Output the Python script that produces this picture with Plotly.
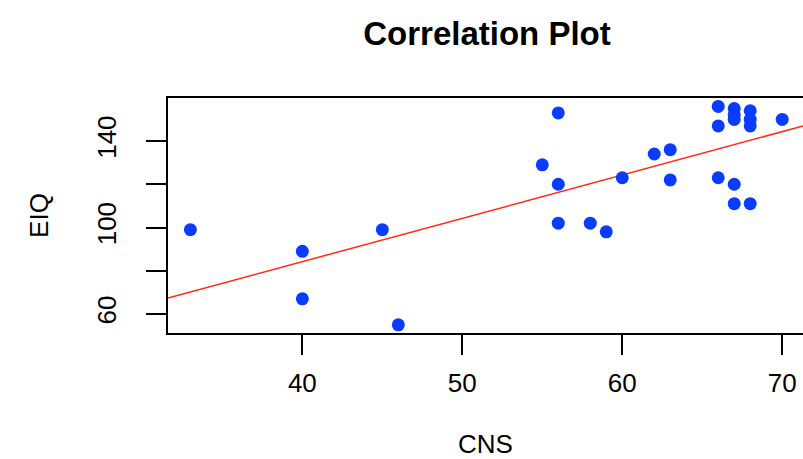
import numpy as np
import plotly.graph_objects as go

cns = [33, 40, 40, 45, 46, 55, 56, 56, 56, 58, 59, 60, 62, 63, 63,
       66, 66, 66, 67, 67, 67, 67, 67, 68, 68, 68, 68, 70]
eiq = [99, 89, 67, 99, 55, 129, 153, 120, 102, 102, 98, 123, 134, 136, 122,
       156, 147, 123, 155, 152, 150, 120, 111, 154, 150, 147, 111, 150]

x_ticks = [40, 50, 60, 70]
x_labels = ["40", "50", "60", "70"]
y_ticks = [60, 80, 100, 120, 140, 160]
y_labels = ["60", "", "100", "", "140", ""]

xr = [31.6, 71.3]
yr = [51.2, 159.9]

slope, intercept = np.polyfit(cns, eiq, 1)
lx = np.array(xr)
ly = intercept + slope * lx

font = "Liberation Sans, Arial, Helvetica, sans-serif"

W, H = 803, 459

fig = go.Figure()
fig.add_trace(go.Scatter(x=lx, y=ly, mode="lines",
                         line=dict(color="#ff2a12", width=1.5),
                         hoverinfo="skip"))
fig.add_trace(go.Scatter(x=cns, y=eiq, mode="markers",
                         marker=dict(color="#0a3cff", size=13, line=dict(width=0)),
                         cliponaxis=False))

fig.update_layout(
    width=W, height=H,
    margin=dict(l=168, r=0, t=98, b=126),
    paper_bgcolor="white", plot_bgcolor="white",
    showlegend=False,
    title=dict(text="<b>Correlation Plot</b>", x=487 / W, xanchor="center",
               y=1 - 33 / H, yanchor="middle",
               font=dict(family=font, size=33, color="black")),
    font=dict(family=font, color="black"),
)
fig.update_xaxes(range=xr, tickvals=x_ticks, ticktext=x_labels,
                 showgrid=False, zeroline=False,
                 showline=True, linecolor="black", linewidth=1.5, mirror=True,
                 ticks="outside", ticklen=20, tickwidth=1.5, tickcolor="black",
                 tickfont=dict(size=26), ticklabelstandoff=6,
                 title=dict(text="CNS", font=dict(size=26), standoff=41))
fig.update_yaxes(range=yr, tickvals=y_ticks, ticktext=y_labels,
                 showgrid=False, zeroline=False,
                 showline=True, linecolor="black", linewidth=1.5, mirror=False,
                 ticks="outside", ticklen=20, tickwidth=1.5, tickcolor="black",
                 tickangle=-90, tickfont=dict(size=26), ticklabelstandoff=20,
                 title=dict(text="EIQ", font=dict(size=26), standoff=36))

fig.write_html(
    "out.html",
    config={"displayModeBar": False},
    post_script="document.body.style.margin='0';document.body.style.overflow='hidden';",
)
